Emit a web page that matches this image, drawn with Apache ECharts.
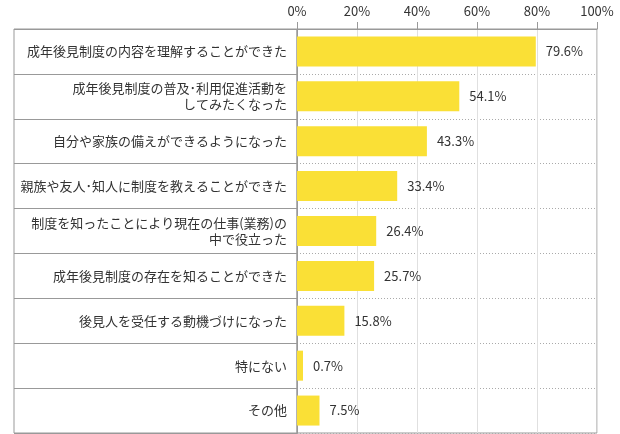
<!DOCTYPE html>
<html><head><meta charset="utf-8">
<script src="https://cdn.jsdelivr.net/npm/echarts@6/dist/echarts.min.js"></script>
<style>html,body{margin:0;padding:0;background:#fff}#c{width:620px;height:434px}</style>
</head><body><div id="c"></div>
<script>
const categories = [
  "成年後見制度の内容を理解することができた",
  "成年後見制度の普及･利用促進活動を\nしてみたくなった",
  "自分や家族の備えができるようになった",
  "親族や友人･知人に制度を教えることができた",
  "制度を知ったことにより現在の仕事(業務)の\n中で役立った",
  "成年後見制度の存在を知ることができた",
  "後見人を受任する動機づけになった",
  "特にない",
  "その他"
];
const values = [79.6, 54.1, 43.3, 33.4, 26.4, 25.7, 15.8, 0.7, 7.5];
const tickMin = 0, tickMax = 100, tickStep = 20;

const font = '"Noto Sans CJK JP", "Noto Sans", sans-serif';
const chart = echarts.init(document.getElementById('c'), null, {renderer: 'canvas'});
chart.setOption({
  animation: false,
  grid: [
    {left: 297, right: 23, top: 29, bottom: 1, show: true, borderColor: '#999', borderWidth: 1, backgroundColor: 'transparent'},
    {left: 14, width: 283, top: 29, bottom: 1, show: true, borderColor: '#999', borderWidth: 1, backgroundColor: 'transparent'}
  ],
  xAxis: [
    {gridIndex: 0, type: 'value', position: 'top', min: tickMin, max: tickMax, interval: tickStep,
     axisLine: {show: true, lineStyle: {color: '#999'}},
     axisTick: {show: true, length: 7, lineStyle: {color: '#999'}},
     axisLabel: {formatter: '{value}%', color: '#333', fontSize: 13, fontFamily: font, margin: 11},
     splitLine: {show: true, lineStyle: {color: '#e0e0e0', width: 1}}},
    {gridIndex: 1, type: 'value', show: false, min: 0, max: 1}
  ],
  yAxis: [
    {gridIndex: 0, type: 'category', data: categories, inverse: true,
     axisLine: {show: true, lineStyle: {color: '#999'}},
     axisTick: {show: false},
     axisLabel: {color: '#333', fontSize: 13, fontFamily: font, margin: 10, lineHeight: 16, align: 'right'},
     splitLine: {show: true, lineStyle: {color: '#aaa', type: [1, 2], width: 1}}},
    {gridIndex: 1, type: 'category', data: categories, inverse: true,
     axisLine: {show: false}, axisTick: {show: false}, axisLabel: {show: false},
     splitLine: {show: true, lineStyle: {color: '#999', width: 1}}}
  ],
  series: [{
    type: 'bar', xAxisIndex: 0, yAxisIndex: 0, data: values, barWidth: 30, barMinHeight: 6,
    itemStyle: {color: '#FAE036'},
    label: {show: true, position: 'right', distance: 10, color: '#333', fontSize: 13, fontFamily: font,
            formatter: p => p.value.toFixed(1) + '%'}
  }]
});
</script></body></html>
